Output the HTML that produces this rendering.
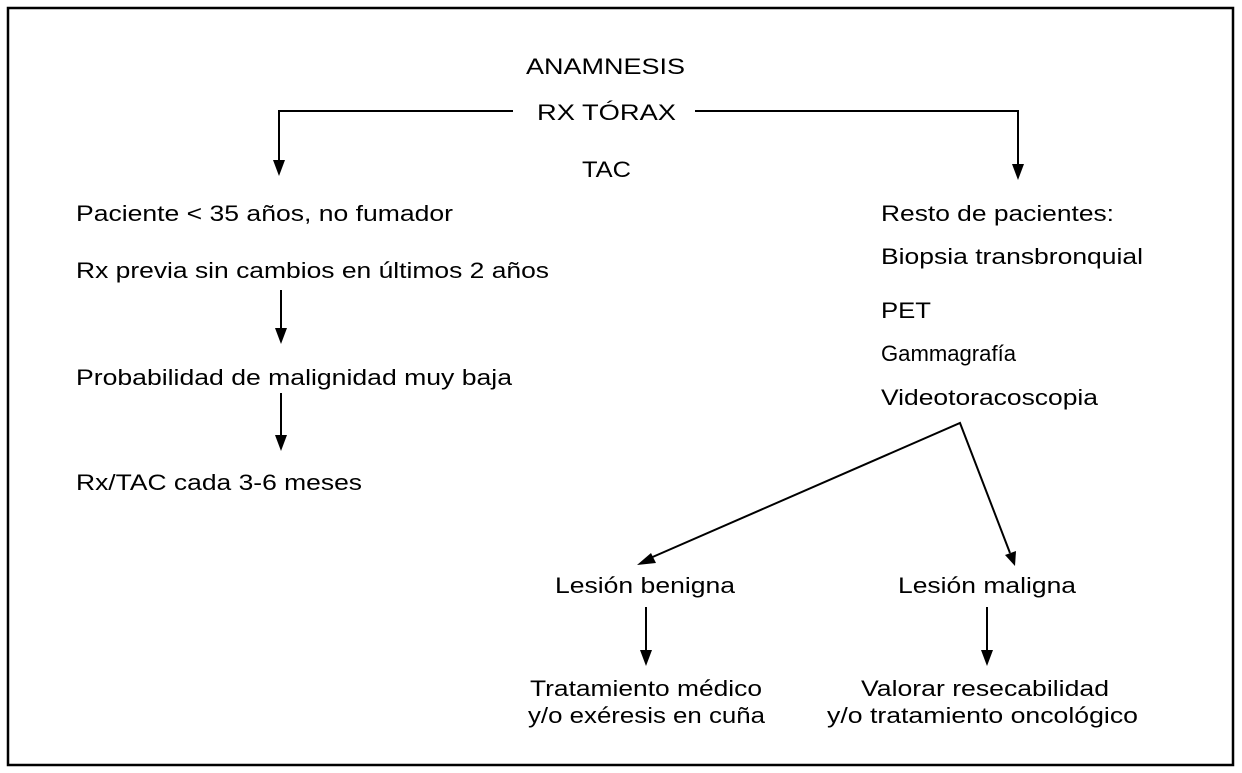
<!DOCTYPE html>
<html><head><meta charset="utf-8"><style>html,body{margin:0;padding:0;background:#fff}svg{display:block}</style></head>
<body>
<svg width="1242" height="773" viewBox="0 0 1242 773" xmlns="http://www.w3.org/2000/svg" font-family="'Liberation Sans', sans-serif" font-size="22" fill="#000">
<rect x="8" y="8" width="1225" height="757" fill="none" stroke="#000" stroke-width="2.5"/>
<g stroke="#000" stroke-width="2" fill="none">
<polyline points="513,111 279,111 279,162"/>
<polyline points="695,111 1018,111 1018,165"/>
<line x1="281" y1="290" x2="281" y2="330"/>
<line x1="281" y1="393" x2="281" y2="437"/>
<polyline points="648,559 960,423 1010,553"/>
<line x1="646" y1="607" x2="646" y2="652"/>
<line x1="987" y1="607" x2="987" y2="652"/>
</g>
<g fill="#000">
<polygon points="273,160 285,160 279,176"/>
<polygon points="1012,164 1024,164 1018,180"/>
<polygon points="275,328 287,328 281,344"/>
<polygon points="275,435 287,435 281,451"/>
<polygon points="637,565 651,553 656,563"/>
<polygon points="1015,566 1005,555 1016,551"/>
<polygon points="640,650 652,650 646,666"/>
<polygon points="981,650 993,650 987,666"/>
</g>
<g lengthAdjust="spacingAndGlyphs">
<text x="526" y="74" textLength="159" lengthAdjust="spacingAndGlyphs">ANAMNESIS</text>
<text x="537" y="120" textLength="139" lengthAdjust="spacingAndGlyphs">RX  TÓRAX</text>
<text x="582" y="177" textLength="49" lengthAdjust="spacingAndGlyphs">TAC</text>
<text x="76" y="221" textLength="377" lengthAdjust="spacingAndGlyphs">Paciente &lt; 35 años, no fumador</text>
<text x="76" y="278" textLength="473" lengthAdjust="spacingAndGlyphs">Rx previa sin cambios en últimos 2 años</text>
<text x="76" y="385" textLength="436" lengthAdjust="spacingAndGlyphs">Probabilidad de malignidad muy baja</text>
<text x="76" y="490" textLength="286" lengthAdjust="spacingAndGlyphs">Rx/TAC cada 3-6 meses</text>
<text x="881" y="221" textLength="233" lengthAdjust="spacingAndGlyphs">Resto de pacientes:</text>
<text x="881" y="264" textLength="262" lengthAdjust="spacingAndGlyphs">Biopsia transbronquial</text>
<text x="881" y="318" textLength="50" lengthAdjust="spacingAndGlyphs">PET</text>
<text x="881" y="361" textLength="135" lengthAdjust="spacingAndGlyphs">Gammagrafía</text>
<text x="881" y="405" textLength="217" lengthAdjust="spacingAndGlyphs">Videotoracoscopia</text>
<text x="555" y="593" textLength="180" lengthAdjust="spacingAndGlyphs">Lesión benigna</text>
<text x="898" y="593" textLength="178" lengthAdjust="spacingAndGlyphs">Lesión maligna</text>
<text x="530" y="696" textLength="232" lengthAdjust="spacingAndGlyphs">Tratamiento médico</text>
<text x="528" y="723" textLength="237" lengthAdjust="spacingAndGlyphs">y/o exéresis en cuña</text>
<text x="861" y="696" textLength="248" lengthAdjust="spacingAndGlyphs">Valorar resecabilidad</text>
<text x="827" y="723" textLength="311" lengthAdjust="spacingAndGlyphs">y/o tratamiento oncológico</text>
</g>
</svg>
</body></html>
